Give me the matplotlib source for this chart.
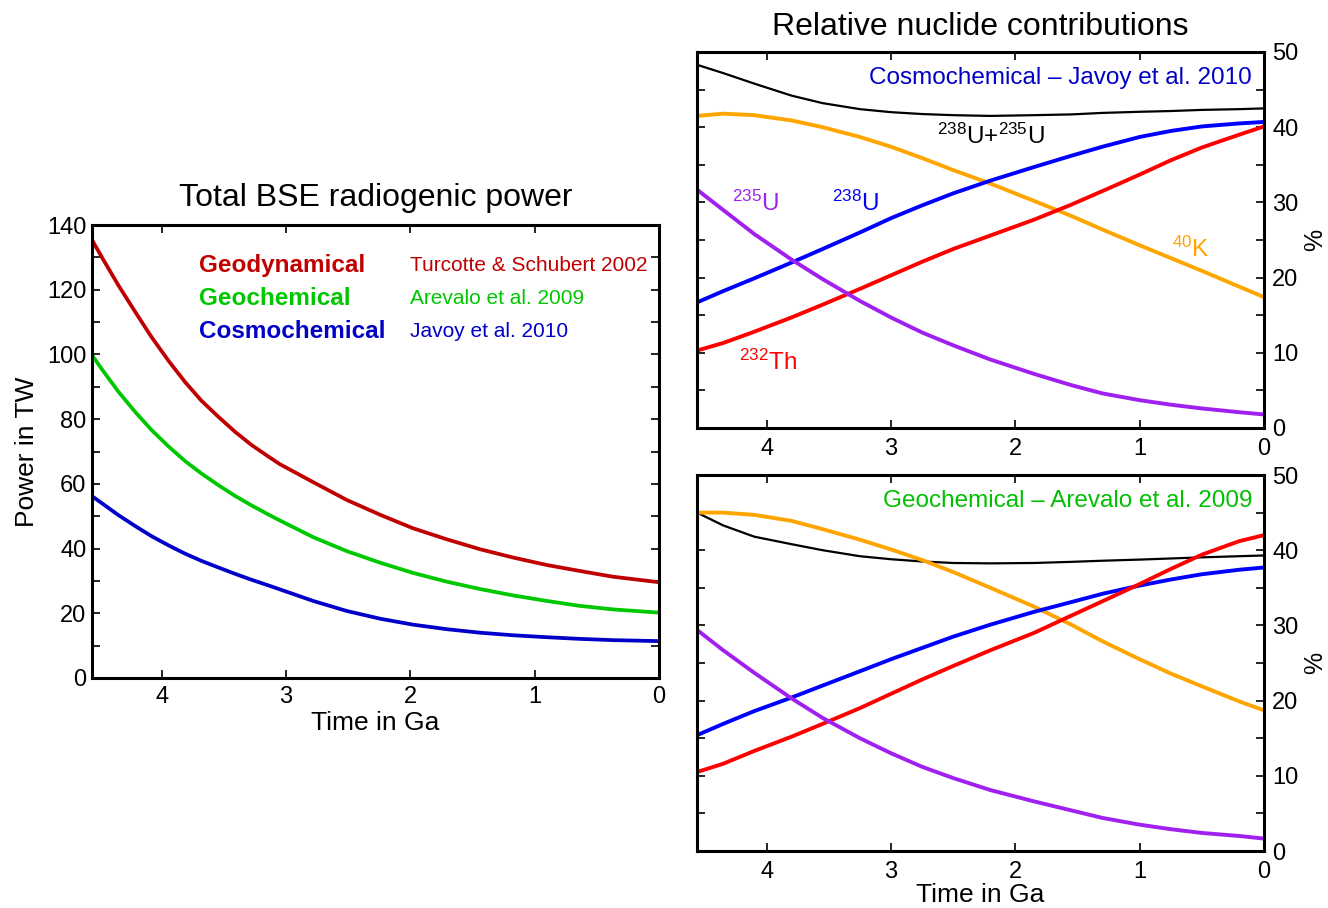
import matplotlib
matplotlib.use("Agg")
import matplotlib.pyplot as plt
from matplotlib.ticker import MultipleLocator

plt.rcParams['font.family'] = ['Liberation Sans', 'DejaVu Sans']
plt.rcParams['mathtext.fontset'] = 'custom'
plt.rcParams['mathtext.rm'] = 'Liberation Sans'
plt.rcParams['mathtext.it'] = 'Liberation Sans'
plt.rcParams['lines.solid_joinstyle'] = 'round'

# ---------------- data: total power (TW) ----------------
t_power = [4.56, 4.48, 4.35, 4.21, 4.08, 3.94, 3.81, 3.68, 3.54, 3.41, 3.28, 3.14,
           3.05, 2.78, 2.51, 2.24, 1.98, 1.71, 1.44, 1.17, 0.9, 0.64, 0.37, 0.0]
geodynamical = [135.4, 130.0, 121.5, 113.0, 105.3, 97.8, 91.4, 85.7, 80.6, 76.1, 72.1, 68.4,
                66.1, 60.5, 55.0, 50.4, 46.3, 42.9, 39.8, 37.2, 34.9, 33.1, 31.3, 29.6]
geochemical = [99.8, 95.4, 88.6, 82.1, 76.6, 71.4, 67.0, 63.2, 59.5, 56.3, 53.4, 50.5,
               48.7, 43.5, 39.2, 35.6, 32.5, 29.8, 27.5, 25.5, 23.8, 22.3, 21.2, 20.2]
cosmochemical = [56.2, 54.0, 50.4, 46.9, 43.8, 40.9, 38.4, 36.2, 34.1, 32.2, 30.4, 28.6,
                 27.4, 23.8, 20.7, 18.3, 16.5, 15.1, 14.0, 13.2, 12.6, 12.1, 11.7, 11.4]

# ---------------- data: relative nuclide contributions (%) ----------------
t_nuc = [4.56, 4.35, 4.1, 3.8, 3.55, 3.25, 3.0, 2.75, 2.5, 2.2, 1.85, 1.55, 1.3, 1.0, 0.75, 0.5, 0.2, 0.0]

cos_U = [48.3, 47.2, 45.8, 44.2, 43.2, 42.4, 42.0, 41.75, 41.6, 41.5, 41.6, 41.7, 41.9, 42.05, 42.15, 42.3, 42.4, 42.5]
cos_K40 = [41.5, 41.8, 41.6, 40.9, 40.0, 38.7, 37.4, 35.9, 34.3, 32.5, 30.2, 28.2, 26.4, 24.3, 22.6, 20.9, 18.8, 17.4]
cos_U238 = [16.7, 18.2, 19.9, 22.0, 23.8, 26.0, 27.9, 29.6, 31.2, 32.9, 34.7, 36.2, 37.4, 38.7, 39.5, 40.1, 40.5, 40.7]
cos_Th232 = [10.3, 11.3, 12.8, 14.7, 16.4, 18.5, 20.3, 22.1, 23.8, 25.6, 27.7, 29.7, 31.5, 33.7, 35.6, 37.3, 39.0, 40.1]
cos_U235 = [31.7, 29.0, 25.8, 22.4, 19.8, 16.9, 14.7, 12.7, 11.0, 9.1, 7.2, 5.7, 4.6, 3.7, 3.1, 2.6, 2.1, 1.8]

geo_U = [45.0, 43.3, 41.8, 40.8, 40.0, 39.2, 38.8, 38.5, 38.3, 38.25, 38.3, 38.45, 38.6, 38.75, 38.9, 39.05, 39.2, 39.3]
geo_K40 = [45.0, 45.0, 44.7, 43.9, 42.8, 41.4, 40.1, 38.7, 37.1, 35.0, 32.5, 30.1, 27.9, 25.5, 23.6, 21.9, 19.9, 18.7]
geo_U238 = [15.4, 16.9, 18.6, 20.4, 22.0, 23.9, 25.5, 27.0, 28.5, 30.1, 31.8, 33.1, 34.2, 35.3, 36.1, 36.8, 37.4, 37.7]
geo_Th232 = [10.5, 11.6, 13.3, 15.2, 16.9, 19.0, 20.9, 22.8, 24.6, 26.7, 29.0, 31.3, 33.2, 35.5, 37.5, 39.4, 41.2, 42.0]
geo_U235 = [29.4, 26.7, 23.7, 20.3, 17.7, 15.0, 13.0, 11.2, 9.7, 8.1, 6.6, 5.4, 4.4, 3.5, 2.9, 2.4, 2.0, 1.65]

W, H = 1328, 908
fig = plt.figure(figsize=(W / 100, H / 100), dpi=100)


def frac(x0, y0, x1, y1):
    return [x0 / W, 1 - y1 / H, (x1 - x0) / W, (y1 - y0) / H]


SPINE_W = 2.2


def style_axes(ax):
    for s in ax.spines.values():
        s.set_linewidth(SPINE_W)
    ax.tick_params(which='both', direction='in', top=True, right=True,
                   width=1.2, length=6, labelsize=17)


# ---------------- left panel ----------------
axL = fig.add_axes(frac(92, 225, 659, 678))
axL.plot(t_power, geodynamical, color='#c00000', lw=2.7)
axL.plot(t_power, geochemical, color='#00c800', lw=2.7)
axL.plot(t_power, cosmochemical, color='#0000c8', lw=2.7)
axL.set_xlim(4.56, 0)
axL.set_ylim(0, 140)
axL.xaxis.set_major_locator(MultipleLocator(1))
axL.yaxis.set_major_locator(MultipleLocator(20))
axL.yaxis.set_minor_locator(MultipleLocator(10))
style_axes(axL)
axL.tick_params(axis='y', which='both', pad=4)
axL.tick_params(axis='x', which='both', pad=6)
axL.set_xlabel('Time in Ga', fontsize=19, labelpad=2)
axL.set_ylabel('Power in TW', fontsize=19, labelpad=6)
axL.set_title('Total BSE radiogenic power', fontsize=23, pad=14)

leg_names = ['Geodynamical', 'Geochemical', 'Cosmochemical']
leg_refs = ['Turcotte & Schubert 2002', 'Arevalo et al. 2009', 'Javoy et al. 2010']
leg_colors = ['#c00000', '#00c800', '#0000c8']
leg_y = [0.910, 0.838, 0.766]
for name, ref, col, yy in zip(leg_names, leg_refs, leg_colors, leg_y):
    axL.text(0.189, yy, name, transform=axL.transAxes, color=col, fontsize=17.5,
             fontweight='bold', va='center', ha='left')
    axL.text(0.561, yy, ref, transform=axL.transAxes, color=col, fontsize=15,
             va='center', ha='left')


# ---------------- right panels ----------------
def nuclide_panel(ax, U, K40, U238, Th232, U235):
    ax.plot(t_nuc, U, color='black', lw=1.6)
    ax.plot(t_nuc, K40, color='#ffa500', lw=2.8)
    ax.plot(t_nuc, U238, color='#0000ff', lw=2.8)
    ax.plot(t_nuc, Th232, color='#ff0000', lw=2.8)
    ax.plot(t_nuc, U235, color='#a020f0', lw=2.8)
    ax.set_xlim(4.56, 0)
    ax.set_ylim(0, 50)
    ax.xaxis.set_major_locator(MultipleLocator(1))
    ax.yaxis.set_major_locator(MultipleLocator(10))
    ax.yaxis.set_minor_locator(MultipleLocator(5))
    style_axes(ax)
    ax.tick_params(axis='y', which='both', labelleft=False, labelright=True, pad=6)
    ax.tick_params(axis='x', which='both', pad=7)
    ax.text(1.091, 0.5, '%', transform=ax.transAxes, fontsize=18, rotation=90,
            ha='center', va='center')


axT = fig.add_axes(frac(697, 52, 1264, 428))
nuclide_panel(axT, cos_U, cos_K40, cos_U238, cos_Th232, cos_U235)
axT.set_title('Relative nuclide contributions', fontsize=23, pad=12)
axT.text(0.979, 0.930, 'Cosmochemical \u2013 Javoy et al. 2010', transform=axT.transAxes,
         color='#0000c8', fontsize=17.5, ha='right', va='center')
axT.text(2.2, 38.8, r'$^{238}$U+$^{235}$U', color='black', fontsize=17.5, ha='center', va='center')
axT.text(4.09, 29.9, r'$^{235}$U', color='#a020f0', fontsize=17.5, ha='center', va='center')
axT.text(3.29, 29.9, r'$^{238}$U', color='#0000ff', fontsize=17.5, ha='center', va='center')
axT.text(3.99, 8.7, r'$^{232}$Th', color='#ff0000', fontsize=17.5, ha='center', va='center')
axT.text(0.59, 23.8, r'$^{40}$K', color='#ffa500', fontsize=17.5, ha='center', va='center')

axB = fig.add_axes(frac(697, 475, 1264, 851))
nuclide_panel(axB, geo_U, geo_K40, geo_U238, geo_Th232, geo_U235)
axB.set_xlabel('Time in Ga', fontsize=19, labelpad=0)
axB.text(0.979, 0.930, 'Geochemical \u2013 Arevalo et al. 2009', transform=axB.transAxes,
         color='#00c000', fontsize=17.5, ha='right', va='center')

fig.savefig('out.png', dpi=100)
